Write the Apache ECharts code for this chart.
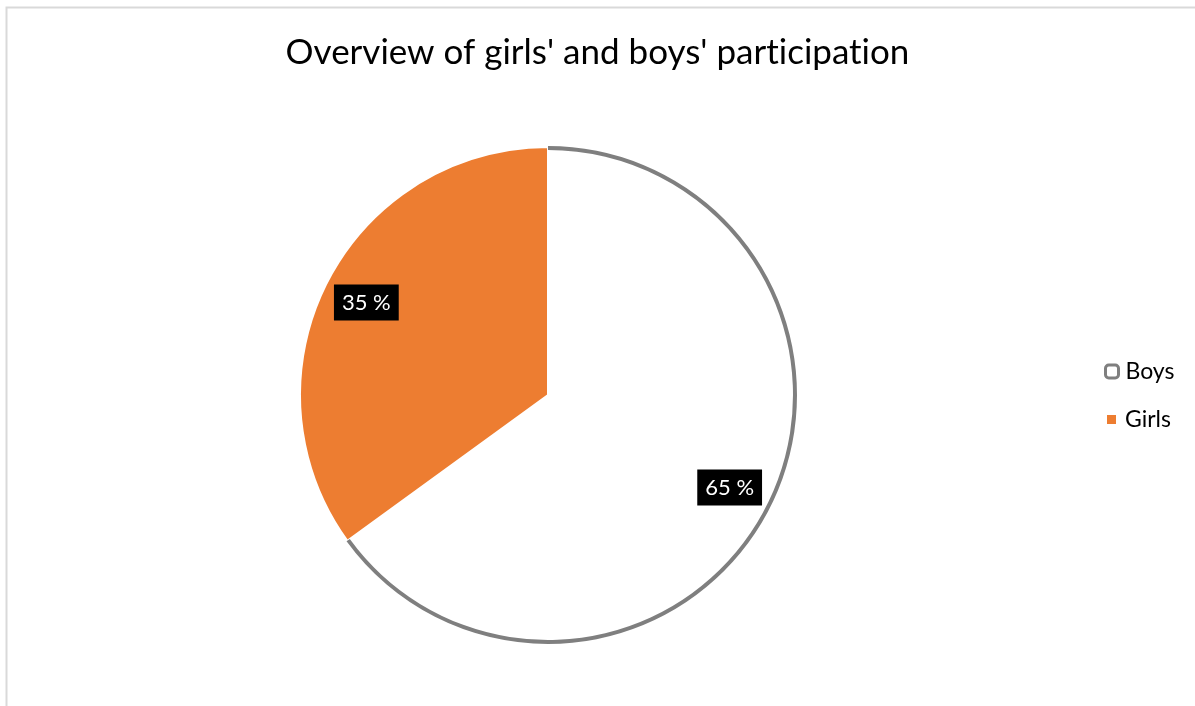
<!DOCTYPE html>
<html>
<head>
<meta charset="utf-8">
<script src="https://cdn.jsdelivr.net/npm/echarts@6/dist/echarts.min.js"></script>
<style>
  html, body { margin: 0; padding: 0; background: #fff; }
  #chart { width: 1195px; height: 706px; }
</style>
</head>
<body>
<div id="chart"></div>
<script>
// Participation shares (percent)
const categories = ['Boys', 'Girls'];
const shares = [65, 35];
const fills = ['#ffffff', '#ED7D31'];

const FONT = 'Lato, "Open Sans", sans-serif';
const CX = 548, CY = 395, R = 248;

const chart = echarts.init(document.getElementById('chart'));

const pieData = categories.map((name, i) => ({
  name, value: shares[i], itemStyle: { color: fills[i] }
}));

const titleStyle = { fontFamily: FONT, fontSize: 35, fontWeight: 'normal', color: '#000' };

chart.setOption({
  animation: false,
  backgroundColor: '#ffffff',
  title: {
    // split between "t" and "i" so the pair is drawn as separate glyphs
    text: "{t|Overview of girls' and boys' part}{t|icipat}{t|ion}",
    left: 'center',
    top: 30,
    textStyle: Object.assign({ rich: { t: titleStyle } }, titleStyle)
  },
  graphic: [{
    type: 'rect',
    shape: { x: 6.5, y: 7.5, width: 1220, height: 720 },
    style: { fill: 'none', stroke: '#d9d9d9', lineWidth: 2 },
    silent: true
  }],
  legend: [{
    orient: 'vertical',
    left: 1099, top: 355,
    icon: 'roundRect',
    itemWidth: 13, itemHeight: 13,
    itemGap: 10,
    textStyle: { fontFamily: FONT, fontSize: 23, color: '#000', padding: [0, 0, 0, 2] },
    data: [{ name: 'Boys', itemStyle: { color: '#ffffff', borderColor: '#7f7f7f', borderWidth: 3 } }],
    selectedMode: false
  }, {
    orient: 'vertical',
    left: 1102, top: 403,
    icon: 'rect',
    itemWidth: 9, itemHeight: 9,
    itemGap: 10,
    textStyle: { fontFamily: FONT, fontSize: 23, color: '#000', padding: [0, 0, 0, 4] },
    data: [{ name: 'Girls', itemStyle: { color: '#ED7D31', borderWidth: 0 } }],
    selectedMode: false
  }],
  series: [{
    // filled slices
    type: 'pie',
    center: [CX, CY],
    radius: [0, R],
    startAngle: 90,
    clockwise: true,
    silent: true,
    label: { show: false },
    labelLine: { show: false },
    itemStyle: { borderColor: '#ffffff', borderWidth: 2 },
    data: pieData
  }, {
    // grey outline on the outer arc of the Boys slice
    type: 'pie',
    center: [CX, CY],
    radius: [R - 3, R + 1],
    startAngle: 90,
    silent: true,
    label: { show: false },
    labelLine: { show: false },
    data: categories.map((name, i) => ({
      name, value: shares[i],
      itemStyle: { color: i === 0 ? '#7f7f7f' : 'rgba(0,0,0,0)' }
    }))
  }, {
    // value labels
    type: 'pie',
    center: [CX, CY],
    radius: [R * 0.62, R],
    startAngle: 90,
    silent: true,
    labelLine: { show: false },
    label: {
      show: true,
      position: 'inside',
      formatter: p => p.value + ' %',
      fontFamily: FONT,
      fontSize: 22,
      color: '#ffffff',
      backgroundColor: '#000000',
      padding: [8, 8, 6, 8]
    },
    data: categories.map((name, i) => ({
      name, value: shares[i], itemStyle: { color: 'rgba(0,0,0,0)' }
    }))
  }]
});
</script>
</body>
</html>
